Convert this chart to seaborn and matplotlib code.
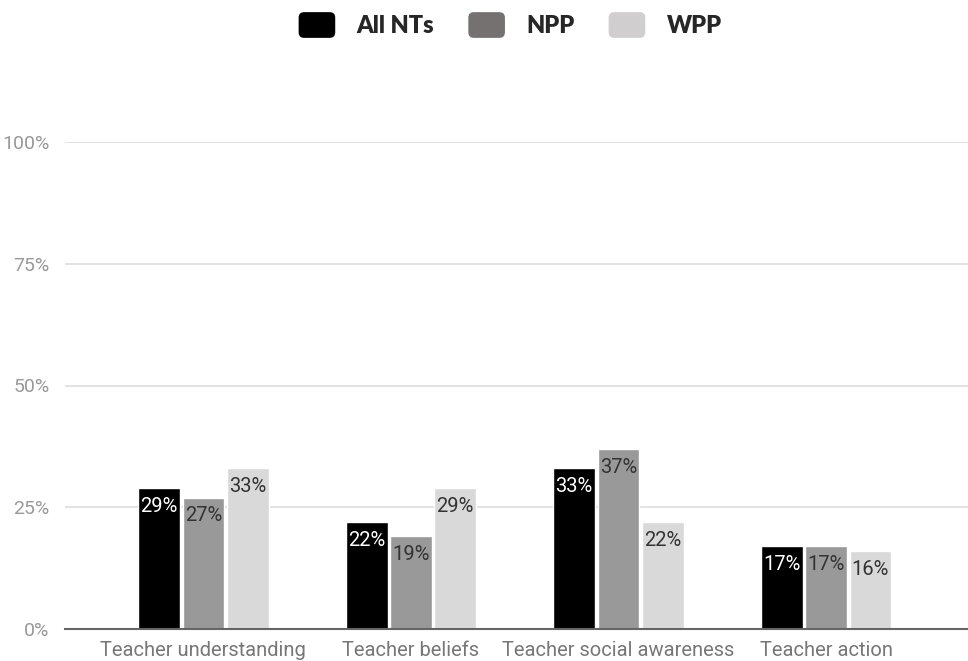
import pandas as pd
import seaborn as sns
import matplotlib.pyplot as plt
from matplotlib.patches import FancyBboxPatch
from matplotlib.legend_handler import HandlerPatch

# datos
categorias = ['Teacher understanding', 'Teacher beliefs', 'Teacher social awareness', 'Teacher action']
grupos = ['All NTs', 'NPP', 'WPP']
all_nts = [29, 22, 33, 17]
npp = [27, 19, 37, 17]
wpp = [33, 29, 22, 16]

colores = ['#000000', '#999999', '#d9d9d9']
colores_leyenda = ['#000000', '#767171', '#d0cece']
colores_texto = ['#ffffff', '#333333', '#333333']

df = pd.DataFrame({
    'categoria': categorias * 3,
    'grupo': [g for g in grupos for _ in categorias],
    'valor': all_nts + npp + wpp,
})

sns.set_theme(style='white')
plt.rcParams['font.family'] = ['Roboto', 'DejaVu Sans']

fig = plt.figure(figsize=(9.68, 6.61), dpi=100)
ax = fig.add_axes([65 / 968, (661 - 629) / 661, (968 - 65) / 968, (629 - 142) / 661])

sns.barplot(data=df, x='categoria', y='valor', hue='grupo', order=categorias,
            hue_order=grupos, palette=colores, width=0.64, gap=0.06,
            saturation=1, ax=ax, legend=False)

ax.set_ylim(0, 100)
ax.set_xlim(-0.667, 3.684)
ax.set_yticks([0, 25, 50, 75, 100])
ax.set_yticklabels(['0%', '25%', '50%', '75%', '100%'])
ax.yaxis.grid(True, color='#dddddd', linewidth=1.2)
ax.set_axisbelow(True)
for s in ['top', 'right', 'left']:
    ax.spines[s].set_visible(False)
ax.spines['bottom'].set_color('#666666')
ax.spines['bottom'].set_linewidth(1.5)
ax.tick_params(axis='y', colors='#999999', labelsize=14, length=0, pad=11)
ax.tick_params(axis='x', colors='#777777', labelsize=14.5, length=0, pad=9)
ax.set_xlabel('')
ax.set_ylabel('')

# etiquetas dentro de las barras
for cont, col in zip(ax.containers, colores_texto):
    for barra in cont:
        h = barra.get_height()
        ax.text(barra.get_x() + barra.get_width() / 2, h - 1.8, f'{h:.0f}%',
                ha='center', va='top', color=col, fontsize=14.5)


class HandlerRedondo(HandlerPatch):
    def create_artists(self, legend, orig_handle, xdescent, ydescent, width, height, fontsize, trans):
        p = FancyBboxPatch((-xdescent, -ydescent), width, height,
                           boxstyle='round,pad=0,rounding_size=4',
                           facecolor=orig_handle.get_facecolor(), edgecolor='none',
                           transform=trans)
        return [p]


handles = [plt.Rectangle((0, 0), 1, 1, facecolor=c) for c in colores_leyenda]
leg = fig.legend(handles, grupos, loc='center', bbox_to_anchor=(0.527, 1 - 25 / 661),
                 ncol=3, frameon=False, handler_map={plt.Rectangle: HandlerRedondo()},
                 handlelength=1.55, handleheight=1.3, handletextpad=0.9, columnspacing=1.45,
                 prop={'family': 'Lato', 'weight': 'heavy', 'size': 17})

fig.savefig('out.png', dpi=100, facecolor='white')
